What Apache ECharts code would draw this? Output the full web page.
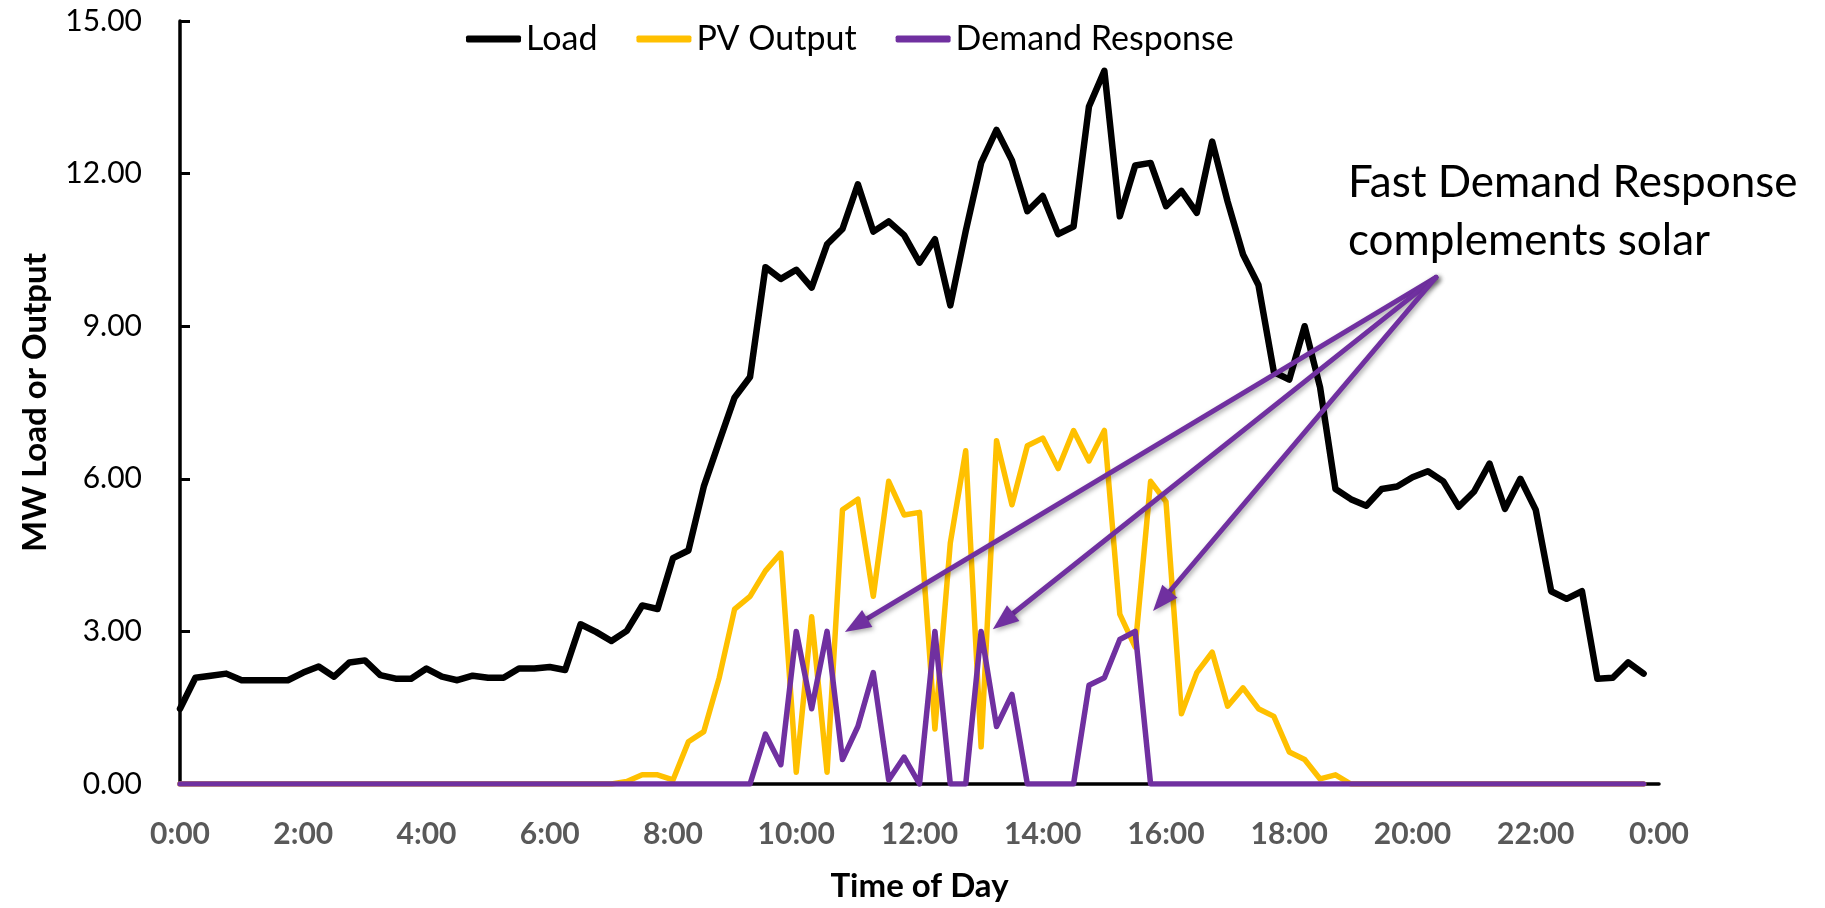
<!DOCTYPE html>
<html>
<head>
<meta charset="utf-8">
<title>Load, PV Output and Demand Response</title>
<script src="https://cdn.jsdelivr.net/npm/echarts@6/dist/echarts.min.js"></script>
<style>
  html, body { margin: 0; padding: 0; background: #ffffff; }
  #chart { width: 1825px; height: 908px; }
</style>
</head>
<body>
<div id="chart"></div>
<script>
// 15-minute readings, 0:00 through 23:45 (MW)
const load = [
  1.48, 2.09, 2.13, 2.17, 2.04, 2.04, 2.04, 2.04,
  2.19, 2.31, 2.11, 2.39, 2.43, 2.14, 2.07, 2.07,
  2.27, 2.11, 2.04, 2.13, 2.09, 2.09, 2.27, 2.27,
  2.30, 2.24, 3.14, 2.99, 2.81, 3.01, 3.51, 3.44,
  4.44, 4.59, 5.85, 6.73, 7.60, 8.00, 10.16, 9.93,
  10.11, 9.76, 10.61, 10.91, 11.79, 10.86, 11.06, 10.79,
  10.25, 10.71, 9.41, 10.87, 12.21, 12.86, 12.26, 11.26,
  11.56, 10.81, 10.96, 13.32, 14.02, 11.16, 12.16, 12.21,
  11.36, 11.66, 11.23, 12.63, 11.45, 10.41, 9.81, 8.10,
  7.95, 9.00, 7.80, 5.80, 5.60, 5.47, 5.80, 5.85,
  6.03, 6.15, 5.95, 5.45, 5.75, 6.30, 5.41, 6.00,
  5.39, 3.79, 3.64, 3.79, 2.07, 2.09, 2.39, 2.17
];

const pvOutput = [
  0, 0, 0, 0, 0, 0, 0, 0,
  0, 0, 0, 0, 0, 0, 0, 0,
  0, 0, 0, 0, 0, 0, 0, 0,
  0, 0, 0, 0, 0, 0.05, 0.18, 0.18,
  0.08, 0.83, 1.03, 2.09, 3.44, 3.69, 4.19, 4.54,
  0.23, 3.29, 0.23, 5.39, 5.60, 3.69, 5.95, 5.29,
  5.34, 1.08, 4.74, 6.55, 0.73, 6.75, 5.49, 6.65,
  6.80, 6.20, 6.95, 6.35, 6.95, 3.34, 2.69, 5.95,
  5.55, 1.38, 2.19, 2.59, 1.53, 1.89, 1.48, 1.33,
  0.63, 0.48, 0.10, 0.18, 0, 0, 0, 0,
  0, 0, 0, 0, 0, 0, 0, 0,
  0, 0, 0, 0, 0, 0, 0, 0
];

const demandResponse = [
  0, 0, 0, 0, 0, 0, 0, 0,
  0, 0, 0, 0, 0, 0, 0, 0,
  0, 0, 0, 0, 0, 0, 0, 0,
  0, 0, 0, 0, 0, 0, 0, 0,
  0, 0, 0, 0, 0, 0, 0.98, 0.38,
  3.00, 1.48, 3.00, 0.48, 1.13, 2.19, 0.08, 0.53,
  0, 3.00, 0, 0, 3.00, 1.13, 1.76, 0,
  0, 0, 0, 1.94, 2.09, 2.84, 3.00, 0,
  0, 0, 0, 0, 0, 0, 0, 0,
  0, 0, 0, 0, 0, 0, 0, 0,
  0, 0, 0, 0, 0, 0, 0, 0,
  0, 0, 0, 0, 0, 0, 0, 0
];

const stepHours = 0.25;                       // one reading every 15 minutes
const timeOfDay = load.map((_, i) => i * stepHours);

const seriesNames = ['Load', 'PV Output', 'Demand Response'];
const seriesColors = ['#000000', '#FFC000', '#7030A0'];

// Callout: text block plus arrows from a common origin to the DR spikes (hours, MW)
const calloutLines = ['Fast Demand Response', 'complements solar'];
const arrowOrigin = [20.38, 9.96];
const arrowTargets = [[10.79, 2.99], [13.19, 3.04], [15.79, 3.40]];

const FONT = 'Lato, "Open Sans", sans-serif';

function pairs(values) {
  return values.map((v, i) => [timeOfDay[i], v]);
}

const chart = echarts.init(document.getElementById('chart'), null, { renderer: 'canvas' });

const lineSeries = [load, pvOutput, demandResponse].map((values, k) => ({
  name: seriesNames[k],
  type: 'line',
  data: pairs(values),
  showSymbol: false,
  symbol: 'none',
  silent: true,
  z: 2 + k,
  itemStyle: { color: seriesColors[k] },
  lineStyle: {
    color: seriesColors[k],
    width: k === 0 ? 6.5 : 5.5,
    join: 'round',
    cap: 'round'
  }
}));

chart.setOption({
  animation: false,
  backgroundColor: '#ffffff',
  textStyle: { fontFamily: FONT },
  grid: { left: 180, right: 166, top: 21, bottom: 124, outerBoundsMode: 'none' },
  legend: {
    data: seriesNames,
    left: 461,
    top: 17,
    icon: 'roundRect',
    itemWidth: 55,
    itemHeight: 7,
    itemGap: 39,
    textStyle: { fontFamily: FONT, fontSize: 34, color: '#000000' }
  },
  xAxis: {
    type: 'value',
    min: 0,
    max: 24,
    interval: 2,
    name: 'Time of Day',
    nameLocation: 'middle',
    nameGap: 86,
    nameTextStyle: { fontFamily: FONT, fontSize: 33, fontWeight: 'bold', color: '#000000' },
    axisLine: { show: true, onZero: false, lineStyle: { color: '#000000', width: 3.5 } },
    axisTick: { show: false },
    splitLine: { show: false },
    axisLabel: {
      margin: 35,
      fontFamily: FONT,
      fontSize: 30,
      fontWeight: 'bold',
      color: '#595959',
      formatter: v => (v % 24) + ':00'
    }
  },
  yAxis: {
    type: 'value',
    min: 0,
    max: 15,
    interval: 3,
    name: 'MW Load or Output',
    nameLocation: 'middle',
    nameRotate: 90,
    nameGap: 128,
    nameTextStyle: { fontFamily: FONT, fontSize: 33, fontWeight: 'bold', color: '#000000' },
    axisLine: { show: true, lineStyle: { color: '#000000', width: 3.5 } },
    axisTick: { show: true, inside: true, length: 10, lineStyle: { color: '#000000', width: 3 } },
    splitLine: { show: false },
    axisLabel: {
      margin: 38,
      fontFamily: FONT,
      fontSize: 30,
      color: '#000000',
      formatter: v => v.toFixed(2)
    }
  },
  series: lineSeries
});

// Arrows and callout text, positioned through the chart's own coordinate system
function drawCallout() {
  const toPx = p => chart.convertToPixel({ gridIndex: 0 }, p);
  const from = toPx(arrowOrigin);
  const headLen = 26;
  const headHalf = 10;
  const shadow = { shadowBlur: 5, shadowOffsetX: 2, shadowOffsetY: 2, shadowColor: 'rgba(0,0,0,0.35)' };
  const children = [];
  arrowTargets.forEach(t => {
    const tip = toPx(t);
    const dx = tip[0] - from[0];
    const dy = tip[1] - from[1];
    const len = Math.hypot(dx, dy);
    const ux = dx / len, uy = dy / len;
    const bx = tip[0] - ux * headLen, by = tip[1] - uy * headLen;
    const nx = -uy, ny = ux;
    children.push({
      type: 'line',
      shape: { x1: from[0], y1: from[1], x2: bx + ux * 2, y2: by + uy * 2 },
      style: Object.assign({ stroke: '#7030A0', lineWidth: 5, lineCap: 'round' }, shadow),
      z: 100
    });
    children.push({
      type: 'polygon',
      shape: { points: [tip, [bx + nx * headHalf, by + ny * headHalf], [bx - nx * headHalf, by - ny * headHalf]] },
      style: Object.assign({ fill: '#7030A0' }, shadow),
      z: 100
    });
  });
  chart.setOption({
    graphic: [
      { type: 'group', id: 'arrows', children: children },
      {
        type: 'text',
        id: 'callout',
        left: 1348,
        top: 154,
        z: 100,
        style: {
          text: calloutLines.join('\n'),
          font: '44px ' + FONT,
          fill: '#000000',
          lineHeight: 58
        }
      }
    ]
  });
}
drawCallout();
</script>
</body>
</html>
